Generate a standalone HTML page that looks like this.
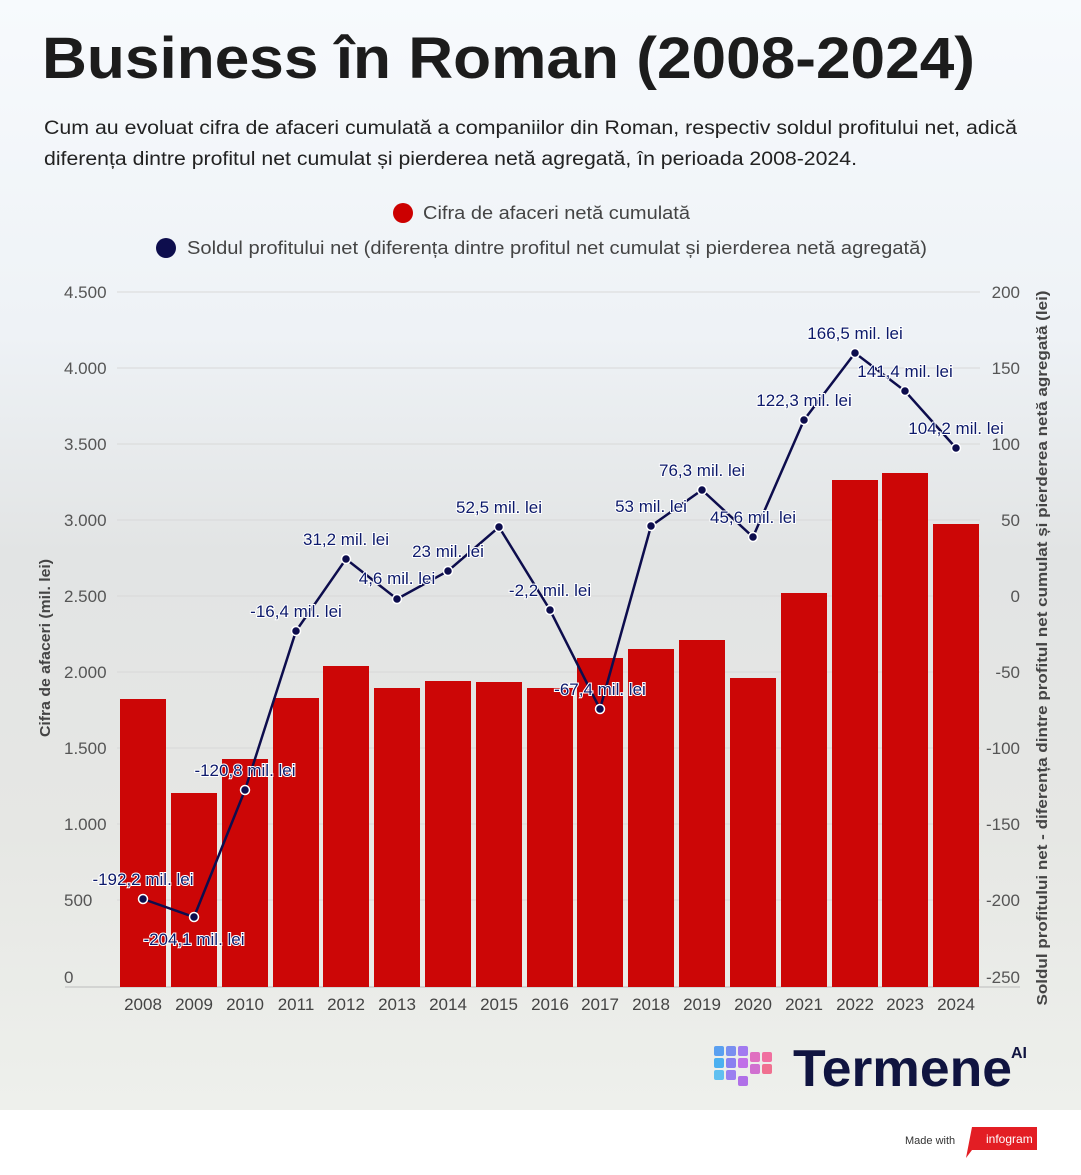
<!DOCTYPE html>
<html><head><meta charset="utf-8"><style>
html,body{margin:0;padding:0;}
body{width:1081px;height:1170px;overflow:hidden;font-family:"Liberation Sans",Arial,sans-serif;background:#fff;}
</style></head><body>
<svg width="1081" height="1170" xmlns="http://www.w3.org/2000/svg" font-family="Liberation Sans, Arial, sans-serif">
<defs>
<linearGradient id="bg" x1="0" y1="0" x2="0" y2="1">
<stop offset="0" stop-color="#f7fafd"/>
<stop offset="0.3" stop-color="#eef2f6"/>
<stop offset="0.5" stop-color="#e2e4e4"/>
<stop offset="0.75" stop-color="#e6e7e4"/>
<stop offset="1" stop-color="#eef0ec"/>
</linearGradient>
</defs>
<rect x="0" y="0" width="1081" height="1110" fill="url(#bg)"/>
<text x="42" y="78" font-size="58" font-weight="bold" fill="#1c1c1c" textLength="933" lengthAdjust="spacingAndGlyphs">Business în Roman (2008-2024)</text>
<text x="44" y="134" font-size="19" fill="#222" textLength="973" lengthAdjust="spacingAndGlyphs">Cum au evoluat cifra de afaceri cumulată a companiilor din Roman, respectiv soldul profitului net, adică</text>
<text x="44" y="165" font-size="19" fill="#222" textLength="813" lengthAdjust="spacingAndGlyphs">diferența dintre profitul net cumulat și pierderea netă agregată, în perioada 2008-2024.</text>
<circle cx="403" cy="213" r="10" fill="#cc0000"/>
<text x="423" y="219" font-size="18" fill="#444" textLength="267" lengthAdjust="spacingAndGlyphs">Cifra de afaceri netă cumulată</text>
<circle cx="166" cy="248" r="10" fill="#0d0d4d"/>
<text x="187" y="254" font-size="18" fill="#444" textLength="740" lengthAdjust="spacingAndGlyphs">Soldul profitului net (diferența dintre profitul net cumulat și pierderea netă agregată)</text>
<g stroke="#d8d8d8" stroke-width="1">
<line x1="117" x2="980" y1="292" y2="292"/><line x1="117" x2="980" y1="368" y2="368"/><line x1="117" x2="980" y1="444" y2="444"/><line x1="117" x2="980" y1="520" y2="520"/><line x1="117" x2="980" y1="596" y2="596"/><line x1="117" x2="980" y1="672" y2="672"/><line x1="117" x2="980" y1="748" y2="748"/><line x1="117" x2="980" y1="824" y2="824"/><line x1="117" x2="980" y1="900" y2="900"/>
</g>
<line x1="65" x2="1020" y1="987" y2="987" stroke="#bbb"/>
<g font-size="17" fill="#555" text-anchor="start">
<text x="64" y="298">4.500</text><text x="64" y="374">4.000</text><text x="64" y="450">3.500</text><text x="64" y="526">3.000</text><text x="64" y="602">2.500</text><text x="64" y="678">2.000</text><text x="64" y="754">1.500</text><text x="64" y="830">1.000</text><text x="64" y="906">500</text><text x="64" y="983">0</text>
</g>
<g font-size="17" fill="#555" text-anchor="end">
<text x="1020" y="298">200</text><text x="1020" y="374">150</text><text x="1020" y="450">100</text><text x="1020" y="526">50</text><text x="1020" y="602">0</text><text x="1020" y="678">-50</text><text x="1020" y="754">-100</text><text x="1020" y="830">-150</text><text x="1020" y="906">-200</text><text x="1020" y="983">-250</text>
</g>
<text transform="translate(50,648) rotate(-90)" font-size="15" font-weight="bold" fill="#444" text-anchor="middle" textLength="178" lengthAdjust="spacingAndGlyphs">Cifra de afaceri (mil. lei)</text>
<text transform="translate(1047,648) rotate(-90)" font-size="15" font-weight="bold" fill="#444" text-anchor="middle" textLength="715" lengthAdjust="spacingAndGlyphs">Soldul profitului net - diferența dintre profitul net cumulat și pierderea netă agregată (lei)</text>
<g fill="#cc0606">
<rect x="120" y="699" width="46" height="288"/><rect x="171" y="793" width="46" height="194"/><rect x="222" y="759" width="46" height="228"/><rect x="273" y="698" width="46" height="289"/><rect x="323" y="666" width="46" height="321"/><rect x="374" y="688" width="46" height="299"/><rect x="425" y="681" width="46" height="306"/><rect x="476" y="682" width="46" height="305"/><rect x="527" y="688" width="46" height="299"/><rect x="577" y="658" width="46" height="329"/><rect x="628" y="649" width="46" height="338"/><rect x="679" y="640" width="46" height="347"/><rect x="730" y="678" width="46" height="309"/><rect x="781" y="593" width="46" height="394"/><rect x="832" y="480" width="46" height="507"/><rect x="882" y="473" width="46" height="514"/><rect x="933" y="524" width="46" height="463"/>
</g>
<g font-size="17" fill="#444" text-anchor="middle">
<text x="143" y="1010">2008</text><text x="194" y="1010">2009</text><text x="245" y="1010">2010</text><text x="296" y="1010">2011</text><text x="346" y="1010">2012</text><text x="397" y="1010">2013</text><text x="448" y="1010">2014</text><text x="499" y="1010">2015</text><text x="550" y="1010">2016</text><text x="600" y="1010">2017</text><text x="651" y="1010">2018</text><text x="702" y="1010">2019</text><text x="753" y="1010">2020</text><text x="804" y="1010">2021</text><text x="855" y="1010">2022</text><text x="905" y="1010">2023</text><text x="956" y="1010">2024</text>
</g>
<polyline fill="none" stroke="#0d0d4d" stroke-width="2.5" points="143,899 194,917 245,790 296,631 346,559 397,599 448,571 499,527 550,610 600,709 651,526 702,490 753,537 804,420 855,353 905,391 956,448"/>
<g fill="#0d0d4d" stroke="#fff" stroke-width="1.5">
<circle cx="143" cy="899" r="4.5"/><circle cx="194" cy="917" r="4.5"/><circle cx="245" cy="790" r="4.5"/><circle cx="296" cy="631" r="4.5"/><circle cx="346" cy="559" r="4.5"/><circle cx="397" cy="599" r="4.5"/><circle cx="448" cy="571" r="4.5"/><circle cx="499" cy="527" r="4.5"/><circle cx="550" cy="610" r="4.5"/><circle cx="600" cy="709" r="4.5"/><circle cx="651" cy="526" r="4.5"/><circle cx="702" cy="490" r="4.5"/><circle cx="753" cy="537" r="4.5"/><circle cx="804" cy="420" r="4.5"/><circle cx="855" cy="353" r="4.5"/><circle cx="905" cy="391" r="4.5"/><circle cx="956" cy="448" r="4.5"/>
</g>
<g font-size="17" fill="#0d1a6b" text-anchor="middle" stroke="#fff" stroke-width="2" paint-order="stroke">
<text x="143" y="885">-192,2 mil. lei</text><text x="194" y="945">-204,1 mil. lei</text><text x="245" y="776">-120,8 mil. lei</text><text x="296" y="617">-16,4 mil. lei</text><text x="346" y="545">31,2 mil. lei</text><text x="397" y="584">4,6 mil. lei</text><text x="448" y="557">23 mil. lei</text><text x="499" y="513">52,5 mil. lei</text><text x="550" y="596">-2,2 mil. lei</text><text x="600" y="695">-67,4 mil. lei</text><text x="651" y="512">53 mil. lei</text><text x="702" y="476">76,3 mil. lei</text><text x="753" y="523">45,6 mil. lei</text><text x="804" y="406">122,3 mil. lei</text><text x="855" y="339">166,5 mil. lei</text><text x="905" y="377">141,4 mil. lei</text><text x="956" y="434">104,2 mil. lei</text>
</g>
<g>
<rect x="714" y="1046" width="10" height="10" rx="2" fill="#5aa0f0"/><rect x="726" y="1046" width="10" height="10" rx="2" fill="#7a8ff0"/><rect x="738" y="1046" width="10" height="10" rx="2" fill="#a27af0"/>
<rect x="714" y="1058" width="10" height="10" rx="2" fill="#4cb0f0"/><rect x="726" y="1058" width="10" height="10" rx="2" fill="#8a80f0"/><rect x="738" y="1058" width="10" height="10" rx="2" fill="#c070e8"/><rect x="750" y="1052" width="10" height="10" rx="2" fill="#e070c0"/><rect x="762" y="1052" width="10" height="10" rx="2" fill="#f070a0"/>
<rect x="714" y="1070" width="10" height="10" rx="2" fill="#60c0f0"/><rect x="726" y="1070" width="10" height="10" rx="2" fill="#9a80f0"/><rect x="738" y="1076" width="10" height="10" rx="2" fill="#b070e8"/><rect x="750" y="1064" width="10" height="10" rx="2" fill="#d070d0"/><rect x="762" y="1064" width="10" height="10" rx="2" fill="#f07090"/>
</g>
<text x="793" y="1086" font-size="52" font-weight="bold" fill="#101440" textLength="219" lengthAdjust="spacingAndGlyphs">Termene</text>
<text x="1011" y="1058" font-size="16" font-weight="bold" fill="#101440">AI</text>
<text x="905" y="1144" font-size="11" fill="#333">Made with</text>
<polygon points="972,1127 1037,1127 1037,1150 972,1150 966,1158" fill="#e31e24"/>
<text x="986" y="1143" font-size="12" fill="#fff">infogram</text>
</svg>
</body></html>
